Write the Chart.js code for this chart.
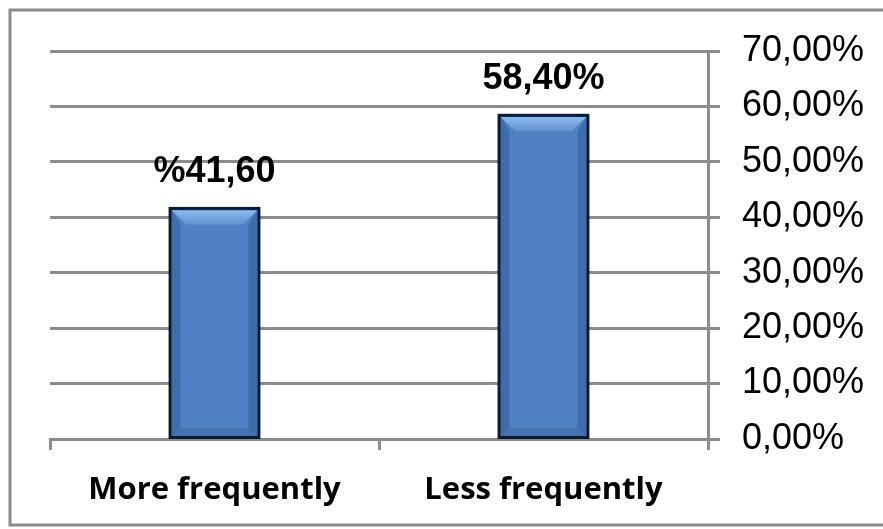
<!DOCTYPE html>
<html>
<head>
<meta charset="utf-8">
<script src="https://cdn.jsdelivr.net/npm/chart.js@4/dist/chart.umd.min.js"></script>
<style>
  html, body { margin: 0; padding: 0; background: #fff; }
  #wrap { width: 883px; height: 529px; }
</style>
</head>
<body>
<div id="wrap"><canvas id="chart-frequency" width="883" height="529"></canvas></div>
<script>
var categories = ['More frequently', 'Less frequently'];
var percentValues = [41.6, 58.4];
var valueLabels = ['%41,60', '58,40%'];
var tickLabels = ['0,00%', '10,00%', '20,00%', '30,00%', '40,00%', '50,00%', '60,00%', '70,00%'];

// outer frame of the picture
var framePlugin = {
    id: 'frame',
    beforeDraw: function(chart) {
        var c = chart.ctx;
        c.save();
        c.fillStyle = '#fff';
        c.fillRect(0, 0, chart.width, chart.height);
        c.strokeStyle = '#8c8c8c';
        c.lineWidth = 3;
        c.strokeRect(10, 10, chart.width + 10, chart.height - 14);
        c.restore();
    }
};

// bevel look on the bars + value labels on top
var bevelPlugin = {
    id: 'bevel',
    afterDatasetsDraw: function(chart) {
        var c = chart.ctx;
        var meta = chart.getDatasetMeta(0);
        meta.data.forEach(function(bar, i) {
            var l = bar.x - bar.width / 2 + 2, r = bar.x + bar.width / 2 - 2;
            var t = bar.y + 2, b = bar.base - 1;
            var d = 14;
            c.save();
            // top light
            var g = c.createLinearGradient(0, t, 0, t + d);
            g.addColorStop(0, 'rgba(150,195,245,0.9)');
            g.addColorStop(1, 'rgba(120,165,225,0.5)');
            c.fillStyle = g;
            c.beginPath();
            c.moveTo(l, t); c.lineTo(r, t); c.lineTo(r - d, t + d); c.lineTo(l + d, t + d); c.closePath();
            c.fill();
            // sides dark
            c.fillStyle = 'rgba(30,60,110,0.3)';
            c.beginPath();
            c.moveTo(l, t); c.lineTo(l + d * 0.6, t + d); c.lineTo(l + d * 0.6, b - d * 0.6); c.lineTo(l, b); c.closePath();
            c.fill();
            c.beginPath();
            c.moveTo(r, t); c.lineTo(r - d * 0.6, t + d); c.lineTo(r - d * 0.6, b - d * 0.6); c.lineTo(r, b); c.closePath();
            c.fill();
            c.fillStyle = 'rgba(30,60,110,0.2)';
            c.beginPath();
            c.moveTo(l, b); c.lineTo(l + d * 0.6, b - d * 0.6); c.lineTo(r - d * 0.6, b - d * 0.6); c.lineTo(r, b); c.closePath();
            c.fill();
            c.restore();
            // border again on top
            c.save();
            c.strokeStyle = '#0b1a33';
            c.lineWidth = 3;
            c.strokeRect(bar.x - bar.width / 2, bar.y, bar.width, bar.base - bar.y);
            c.restore();
            // value label
            c.save();
            c.font = 'bold 36px "Liberation Sans", Arial, sans-serif';
            c.fillStyle = '#000';
            c.textAlign = 'center';
            c.textBaseline = 'alphabetic';
            c.fillText(valueLabels[i], bar.x, bar.y - 26);
            c.restore();
        });
    }
};

var ctx = document.getElementById('chart-frequency');
var freqChart = new Chart(ctx, {
    type: 'bar',
    data: {
        labels: categories,
        datasets: [{
            data: percentValues,
            backgroundColor: '#4f81c4',
            borderColor: '#0b1a33',
            borderWidth: 0,
            barPercentage: 0.54,
            categoryPercentage: 0.5
        }]
    },
    options: {
        responsive: false,
        animation: false,
        layout: { padding: { left: 50, right: 0, top: 51, bottom: 2 } },
        plugins: { legend: { display: false }, tooltip: { enabled: false } },
        scales: {
            x: {
                offset: true,
                afterFit: function(scale) { scale.height = 88; },
                grid: {
                    offset: true,
                    drawOnChartArea: false,
                    drawTicks: true,
                    tickLength: 11,
                    color: '#8c8c8c',
                    lineWidth: 3
                },
                border: { display: true, color: '#8c8c8c', width: 3 },
                ticks: {
                    padding: 22,
                    color: '#000',
                    font: { family: '"Open Sans", "DejaVu Sans", sans-serif', weight: 'bold', size: 31 }
                }
            },
            y: {
                position: 'right',
                min: 0,
                max: 70,
                afterFit: function(scale) { scale.width = 175; },
                grid: {
                    color: '#8c8c8c',
                    lineWidth: 3,
                    tickLength: 12
                },
                border: { display: true, color: '#8c8c8c', width: 3 },
                ticks: {
                    stepSize: 10,
                    padding: 22,
                    color: '#000',
                    font: { family: '"Liberation Sans", Arial, sans-serif', size: 36 },
                    callback: function(value) { return tickLabels[Math.round(value / 10)]; }
                }
            }
        }
    },
    plugins: [framePlugin, bevelPlugin]
});
</script>
</body>
</html>
